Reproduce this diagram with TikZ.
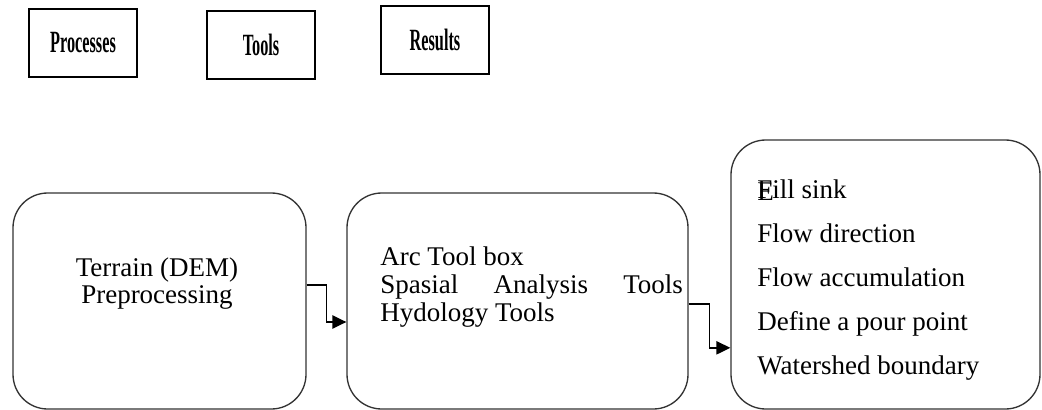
\documentclass[tikz,border=0pt]{standalone}
\usepackage{fontspec}
\setmainfont{Liberation Serif}
\usepackage{graphicx}
\usetikzlibrary{arrows.meta,positioning}

\begin{document}
\begin{tikzpicture}[x=0.75pt,y=-0.75pt,>={Triangle[length=10.5pt,width=10pt]},
  head/.style={rectangle,draw,line width=2pt,minimum width=81pt,minimum height=51pt,inner sep=0pt,
    font=\fontsize{12.2pt}{14pt}\selectfont\bfseries},
  panel/.style={rectangle,rounded corners=26pt,draw=black!80,line width=1pt,inner sep=0pt},
  body/.style={inner sep=0pt,font=\fontsize{20.25pt}{20.25pt}\selectfont}]
  \useasboundingbox (0,0) rectangle (1042,410);
  % column heads
  \node[head] (proc) at (83,43) {\scalebox{1}[1.9]{Processes}};
  \node[head] (tool) at (261,45) {\scalebox{1}[1.9]{Tools}};
  \node[head] (res) at (435,40) {\scalebox{1}[1.9]{Results}};
  % panels
  \node[panel,minimum width=219.75pt,minimum height=162pt] (terrain) at (159.5,301) {};
  \node[panel,minimum width=255.75pt,minimum height=162pt] (arctool) at (517.5,301) {};
  \node[panel,minimum width=231.75pt,minimum height=201.75pt] (result) at (885.5,274.5) {};
  % panel texts (base = last line)
  \node[body,align=center,anchor=base] (terraintxt) at (157,303)
  {Terrain (DEM)\\Preprocessing};
  \node[body,align=left,anchor=base west,font=\fontsize{20.25pt}{21pt}\selectfont] (arctxt) at (380,321)
  {Arc Tool box\\\hbox to 227pt{Spasial\hfill Analysis\hfill Tools}\\Hydology Tools};
  \node[body,align=left,anchor=base west,font=\fontsize{20.25pt}{33pt}\selectfont] (restxt) at (757,374)
  {\rlap{\raisebox{-2pt}{E}}Fill sink\\Flow direction\\Flow accumulation\\Define a pour point\\Watershed boundary};
  % links
  \draw[->,line width=1pt] ([yshift=12pt]terrain.east) -- ++(15pt,0) |- ([yshift=-15.75pt]arctool.west);
  \draw[->,line width=1pt] ([yshift=-2.25pt]arctool.east) -- ++(15.75pt,0) |- ([yshift=-55pt]result.west);
\end{tikzpicture}
\end{document}
